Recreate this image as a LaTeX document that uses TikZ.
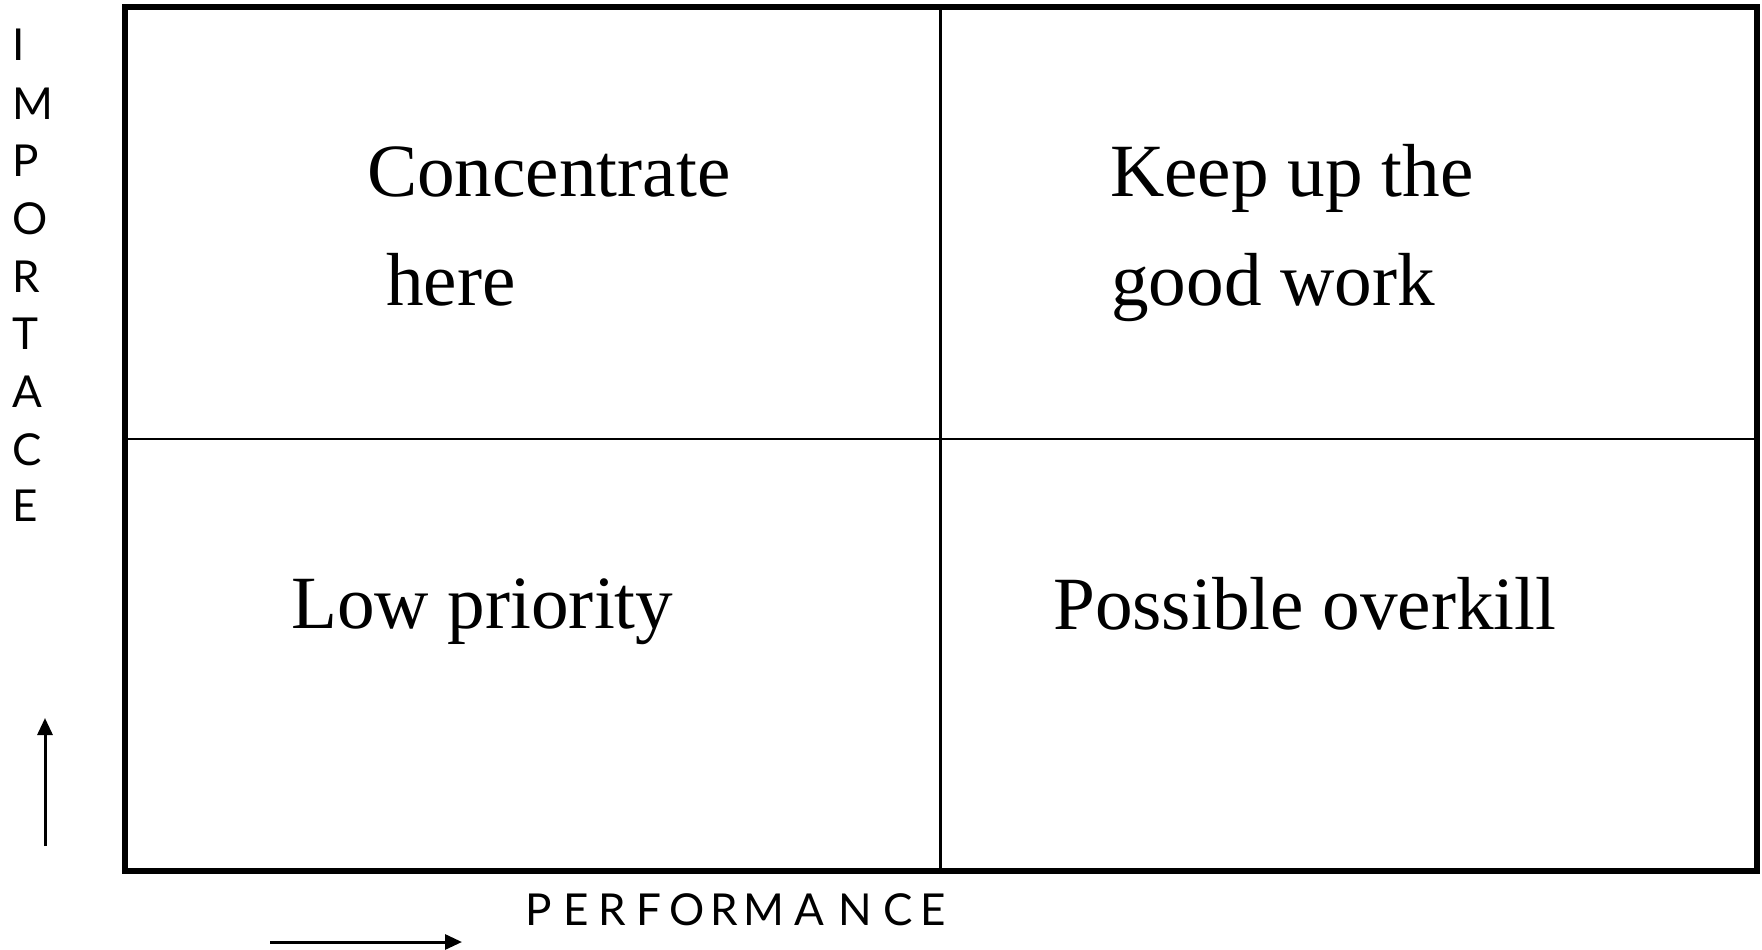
\documentclass[tikz,border=0pt]{standalone}
\usepackage{fontspec}
\setmainfont{Liberation Serif}
\newfontfamily\labfont{Lato}
\usetikzlibrary{arrows.meta}
\begin{document}
\begin{tikzpicture}[x=1pt,y=-1pt,
  quad/.style={inner sep=0pt,anchor=base west,font=\fontsize{75.2}{88}\selectfont},
  axl/.style={inner sep=0pt,anchor=base west,font=\labfont\fontsize{44}{50}\selectfont},
  axarrow/.style={line width=3pt,-{Triangle[length=17pt,width=15pt]}}]
\useasboundingbox (0,0) rectangle (1762,950);
% frame and dividers
\draw[line width=6.5pt] (125,7) rectangle (1757,871);
\draw[line width=2.7pt] (940.5,7) -- (940.5,871);
\draw[line width=2.7pt] (125,439) -- (1757,439);
% quadrant texts
\node[quad] (c1) at (367,196.7) {Concentrate};
\node[quad] (c2) at (386,305) {here};
\node[quad] (k1) at (1110,196.7) {Keep up the};
\node[quad] (k2) at (1111,305) {good work};
\node[quad] (l1) at (291,628.5) {Low priority};
\node[quad] (p1) at (1053,629) {Possible overkill};
% vertical label
\node[axl] (vI) at (12,61) {I};
\node[axl] (vM) at (12,119.3) {M};
\node[axl] (vP) at (12,176.7) {P};
\node[axl] (vO) at (12,234) {O};
\node[axl] (vR) at (12,292.7) {R};
\node[axl] (vT) at (12,349.3) {T};
\node[axl] (vA) at (12,407.7) {A};
\node[axl] (vC) at (12,465.5) {C};
\node[axl] (vE) at (12,521.7) {E};
% horizontal label
\node[axl] (hP) at (525,925.7) {P};
\node[axl] (hE) at (563,925.7) {E};
\node[axl] (hR) at (598.7,925.7) {R};
\node[axl] (hF) at (636.3,925.7) {F};
\node[axl] (hO) at (669.7,925.7) {O};
\node[axl] (hR2) at (710.3,925.7) {R};
\node[axl] (hM) at (743.7,925.7) {M};
\node[axl] (hA) at (794,925.7) {A};
\node[axl] (hN) at (838.7,925.7) {N};
\node[axl] (hC) at (883,925.7) {C};
\node[axl] (hE2) at (920.3,925.7) {E};
% arrows
\coordinate (va) at (45,846);
\coordinate (vb) at (45,718);
\coordinate (ha) at (270,942);
\coordinate (hb) at (462,942);
\draw[axarrow] (va) -- (vb);
\draw[axarrow] (ha) -- (hb);
\end{tikzpicture}
\end{document}
